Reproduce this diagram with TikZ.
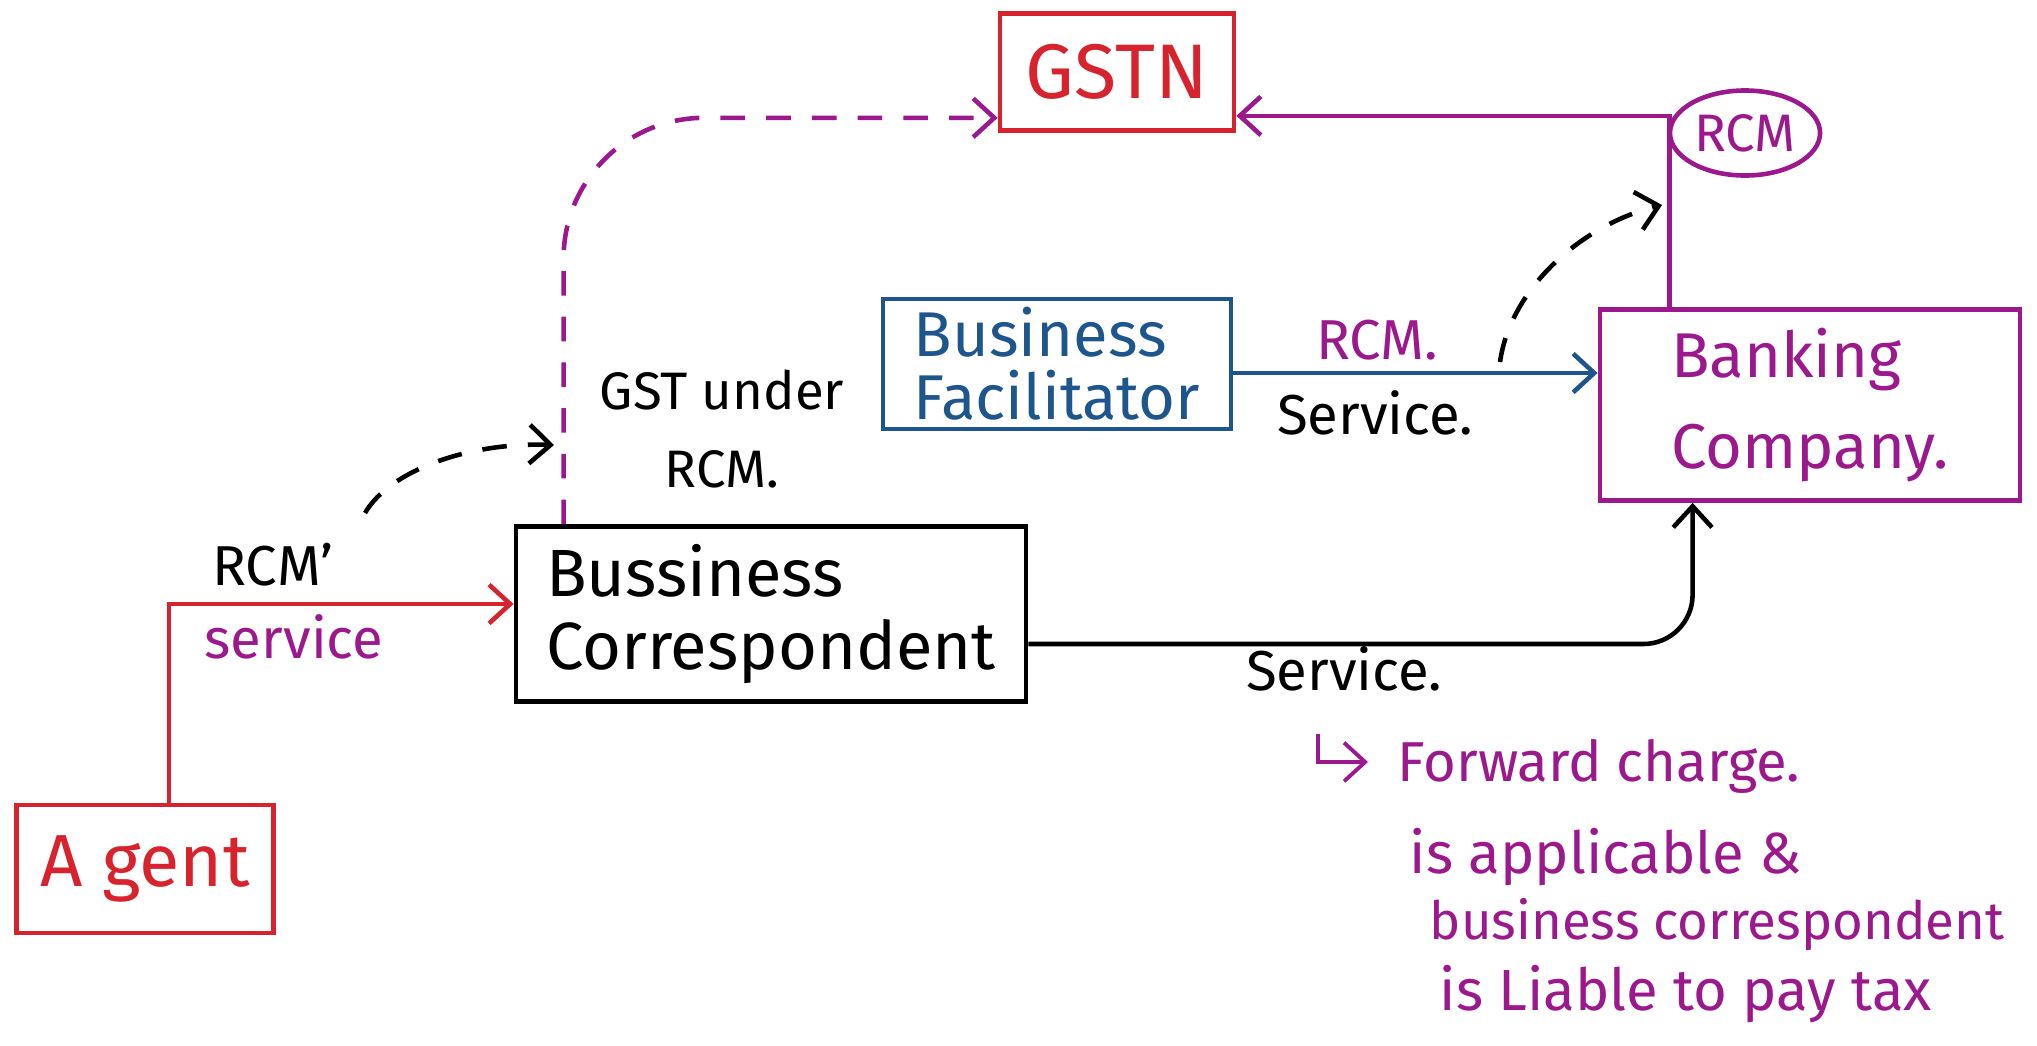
\documentclass[tikz,border=0pt]{standalone}
\usepackage{fontspec}
\setmainfont{Fira Sans}
\usetikzlibrary{calc,arrows.meta,shapes.geometric}
\definecolor{hred}{RGB}{215,35,45}
\definecolor{hmag}{RGB}{155,25,140}
\definecolor{hblue}{RGB}{30,85,140}
\begin{document}
\begin{tikzpicture}[x=0.01cm,y=-0.01cm,
  hbox/.style={draw, line width=1.3pt, rectangle, align=left, inner sep=2pt, font=\fontsize{17}{21}\selectfont},
  lbl/.style={font=\fontsize{16}{22}\selectfont, inner sep=0pt},
  conn/.style={line width=1.3pt, -{Straight Barb[length=6pt,width=11pt]}},
  dashpat/.style={dash pattern=on 7pt off 6pt}
]
\useasboundingbox (0,0) rectangle (2037,1045);

% boxes
\node[hbox, draw=hred, text=hred, align=center, minimum width=2.34cm, minimum height=1.17cm, font=\fontsize{22}{26}\selectfont] (gstn) at (1117,72) {GSTN};
\node[hbox, draw=hmag, text=hmag, minimum width=4.2cm, minimum height=1.91cm, font=\fontsize{18}{26}\selectfont] (bank) at (1810,405) {Banking\\Company.};
\node[hbox, draw=hblue, text=hblue, minimum width=3.48cm, minimum height=1.3cm, font=\fontsize{18}{18}\selectfont] (bf) at (1057,364) {Business\\Facilitator};
\node[hbox, draw=black, minimum width=5.1cm, minimum height=1.75cm, font=\fontsize{19}{21}\selectfont] (bc) at (771,614) {Bussiness\\Correspondent};
\node[hbox, draw=hred, text=hred, align=center, minimum width=2.57cm, minimum height=1.28cm, font=\fontsize{21}{24}\selectfont] (agent) at (145,869) {A gent};

% connectors
\draw[conn, hred] ($(agent.north)+(24,0)$) |- ($(bc.west)+(0,-10)$);
\draw[conn, hmag, dashpat, rounded corners=40] ($(bc.north west)+(50,0)$) |- ($(gstn.south west)+(0,-15)$);
\draw[conn, hmag] ($(bank.north west)+(72,0)$) |- ($(gstn.south east)+(0,-17)$);
\node[draw=hmag, ellipse, line width=1.3pt, text=hmag, minimum width=1.5cm, minimum height=0.85cm, inner sep=0pt, font=\fontsize{15}{18}\selectfont] (rcm) at (1745,133) {RCM};
\draw[conn, hblue] ($(bf.east)+(0,9)$) -- ($(bf.east -| bank.west)+(0,9)$);
\draw[conn, black, rounded corners=14] ($(bc.east)+(0,30)$) -| ($(bank.south west)+(95,0)$);

\coordinate (d1s) at (365,513);
\coordinate (d1e) at (554,445);
\draw[conn, dashpat] (d1s) .. controls (390,470) and (470,442) .. (d1e);
\coordinate (d2s) at (1500,362);
\coordinate (d2e) at (1662,205);
\draw[conn, dashpat] (d2s) .. controls (1510,290) and (1580,225) .. (d2e);

\coordinate (hk) at (1318,734);
\coordinate (hke) at (1368,762);
\draw[conn, hmag, line width=1.1pt] (hk) |- (hke);

% labels
\node[lbl] (l1) at (273,565) {RCM'};
\node[lbl, text=hmag] (l2) at (294,637) {service};
\node[lbl, align=center, font=\fontsize{15}{22}\selectfont] (l3) at (722,429) {GST under\\RCM.};
\node[lbl, text=hmag] (l5) at (1377,340) {RCM.};
\node[lbl] (l6) at (1375,413) {Service.};
\node[lbl] (l7) at (1344,669) {Service.};
\node[lbl, text=hmag, anchor=west] (n1) at (1397,766) {Forward charge.};
\node[lbl, text=hmag, anchor=west, font=\fontsize{16.5}{22}\selectfont] (n2) at (1409,857) {is applicable \&};
\node[lbl, text=hmag, anchor=west, font=\fontsize{15}{22}\selectfont] (n3) at (1429,925) {business correspondent};
\node[lbl, text=hmag, anchor=west, font=\fontsize{16.5}{22}\selectfont] (n4) at (1439,994) {is Liable to pay tax};
\end{tikzpicture}
\end{document}
